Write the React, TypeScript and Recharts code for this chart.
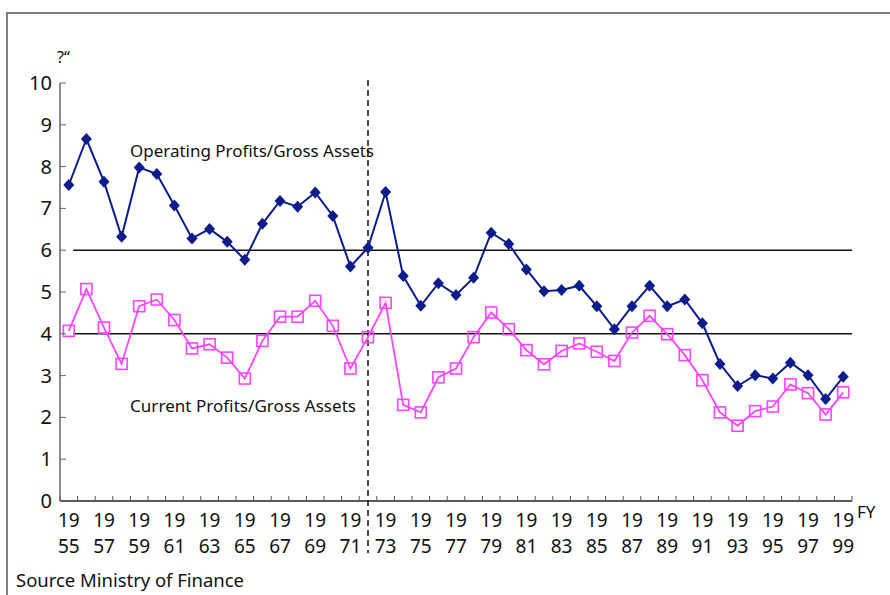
import React from 'react';
import { LineChart, Line, XAxis, YAxis, ReferenceLine } from 'recharts';

// Fiscal years on the horizontal axis
const years = [
  1955, 1956, 1957, 1958, 1959, 1960, 1961, 1962, 1963, 1964,
  1965, 1966, 1967, 1968, 1969, 1970, 1971, 1972, 1973, 1974,
  1975, 1976, 1977, 1978, 1979, 1980, 1981, 1982, 1983, 1984,
  1985, 1986, 1987, 1988, 1989, 1990, 1991, 1992, 1993, 1994,
  1995, 1996, 1997, 1998, 1999,
];

// Operating profits / gross assets (%)
const operatingProfits = [
  7.56, 8.66, 7.64, 6.32, 7.98, 7.82, 7.07, 6.28, 6.51, 6.20,
  5.77, 6.63, 7.18, 7.04, 7.38, 6.82, 5.61, 6.06, 7.39, 5.38,
  4.67, 5.21, 4.93, 5.34, 6.42, 6.15, 5.54, 5.02, 5.05, 5.15,
  4.66, 4.11, 4.66, 5.15, 4.66, 4.82, 4.25, 3.28, 2.75, 3.01,
  2.93, 3.31, 3.01, 2.44, 2.97,
];

// Current profits / gross assets (%)
const currentProfits = [
  4.07, 5.07, 4.15, 3.28, 4.66, 4.82, 4.33, 3.65, 3.75, 3.43,
  2.93, 3.83, 4.41, 4.41, 4.79, 4.19, 3.17, 3.92, 4.74, 2.30,
  2.12, 2.96, 3.17, 3.92, 4.51, 4.11, 3.61, 3.27, 3.59, 3.77,
  3.57, 3.35, 4.03, 4.43, 3.99, 3.49, 2.89, 2.12, 1.80, 2.15,
  2.26, 2.79, 2.58, 2.07, 2.60,
];

// Labelled years (every other fiscal year)
const labelYears = [
  1955, 1957, 1959, 1961, 1963, 1965, 1967, 1969, 1971, 1973, 1975, 1977,
  1979, 1981, 1983, 1985, 1987, 1989, 1991, 1993, 1995, 1997, 1999,
];

const valueTicks = [0, 1, 2, 3, 4, 5, 6, 7, 8, 9, 10];

// Long-run reference levels and the 1972 break
const operatingLevel = 6;
const currentLevel = 4;
const breakYear = 1972;

const NAVY = '#0b1c8c';
const MAGENTA = '#ff44ff';
const FONT = '"Noto Sans", "DejaVu Sans", sans-serif';

const data = years.map((year, i) => ({
  year,
  operating: operatingProfits[i],
  current: currentProfits[i],
}));

const firstYear = years[0];
const lastYear = years[years.length - 1];
const xDomain: [number, number] = [firstYear - 0.5, lastYear + 0.5];
const boundaryTicks = [...years.map((y) => y - 0.5), lastYear + 0.5];

const Diamond = (props: any) => {
  const { cx, cy, index } = props;
  if (cx == null || cy == null) return <g key={`d-${index}`} />;
  return (
    <path
      key={`d-${index}`}
      d={`M${cx},${cy - 6}L${cx + 5.5},${cy}L${cx},${cy + 6}L${cx - 5.5},${cy}Z`}
      fill={NAVY}
    />
  );
};

const HollowSquare = (props: any) => {
  const { cx, cy, index } = props;
  if (cx == null || cy == null) return <g key={`s-${index}`} />;
  return (
    <rect
      key={`s-${index}`}
      x={cx - 5.5}
      y={cy - 5.5}
      width={11}
      height={11}
      fill="none"
      stroke={MAGENTA}
      strokeWidth={1.6}
    />
  );
};

const YearTick = (props: any) => {
  const { x, y, payload } = props;
  const s = String(payload.value);
  return (
    <g>
      <text x={x} y={y + 26} textAnchor="middle" fontSize={19} fontFamily={FONT} fill="#111">
        {s.slice(0, 2)}
      </text>
      <text x={x} y={y + 52} textAnchor="middle" fontSize={19} fontFamily={FONT} fill="#111">
        {s.slice(2)}
      </text>
    </g>
  );
};

const ValueTick = (props: any) => {
  const { x, y, payload } = props;
  return (
    <g>
      <line x1={x + 8} y1={y} x2={x + 14} y2={y} stroke="#666" strokeWidth={1} />
      <text x={x} y={y + 7} textAnchor="end" fontSize={20} fontFamily={FONT} fill="#111">
        {payload.value}
      </text>
    </g>
  );
};

const EmptyTick = () => <g />;

export default function App() {
  return (
    <div
      style={{
        position: 'fixed',
        left: 0,
        top: 0,
        width: 890,
        height: 595,
        overflow: 'hidden',
        background: '#fff',
      }}
    >
      <div
        style={{
          position: 'absolute',
          left: 6,
          top: 12,
          width: 920,
          height: 620,
          border: '2px solid #808080',
          boxSizing: 'border-box',
        }}
      />
      <div style={{ position: 'absolute', left: 0, top: 0 }}>
        <LineChart
          width={890}
          height={595}
          data={data}
          margin={{ top: 83, right: 38, left: 10, bottom: 34 }}
        >
          <XAxis
            dataKey="year"
            type="number"
            domain={xDomain}
            ticks={labelYears}
            interval={0}
            height={60}
            tickSize={0}
            tickMargin={0}
            tickLine={false}
            axisLine={{ stroke: '#222', strokeWidth: 1.5 }}
            tick={<YearTick />}
          />
          <XAxis
            xAxisId="bounds"
            dataKey="year"
            type="number"
            domain={xDomain}
            ticks={boundaryTicks}
            interval={0}
            mirror
            tickSize={5}
            axisLine={false}
            tickLine={{ stroke: '#555', strokeWidth: 1 }}
            tick={EmptyTick}
          />
          <YAxis
            type="number"
            domain={[0, 10]}
            ticks={valueTicks}
            interval={0}
            width={50}
            tickSize={0}
            tickMargin={8}
            tickLine={false}
            axisLine={{ stroke: '#666', strokeWidth: 1.5 }}
            tick={<ValueTick />}
          />
          <ReferenceLine
            segment={[
              { x: firstYear + 0.25, y: operatingLevel },
              { x: lastYear + 0.5, y: operatingLevel },
            ]}
            stroke="#111"
            strokeWidth={1.5}
          />
          <ReferenceLine
            segment={[
              { x: firstYear + 0.25, y: currentLevel },
              { x: lastYear + 0.5, y: currentLevel },
            ]}
            stroke="#111"
            strokeWidth={1.5}
          />
          <ReferenceLine
            segment={[
              { x: breakYear, y: 10.07 },
              { x: breakYear, y: -1.25 },
            ]}
            ifOverflow="visible"
            stroke="#111"
            strokeWidth={1.5}
            strokeDasharray="6 4"
          />
          <Line
            dataKey="operating"
            stroke={NAVY}
            strokeWidth={2}
            dot={Diamond}
            activeDot={false}
            isAnimationActive={false}
          />
          <Line
            dataKey="current"
            stroke={MAGENTA}
            strokeWidth={1.8}
            dot={HollowSquare}
            activeDot={false}
            isAnimationActive={false}
          />
        </LineChart>
      </div>
      <svg
        width={890}
        height={595}
        style={{ position: 'absolute', left: 0, top: 0, pointerEvents: 'none' }}
      >
        <text x={57} y={63} fontSize={16} fontFamily={FONT} fill="#111">
          ?“
        </text>
        <text x={130} y={157} fontSize={17} fontFamily={FONT} fill="#111" textLength={244}>
          Operating Profits/Gross Assets
        </text>
        <text x={130} y={412} fontSize={17} fontFamily={FONT} fill="#111" textLength={226}>
          Current Profits/Gross Assets
        </text>
        <text x={857} y={518} fontSize={17} fontFamily={FONT} fill="#111">
          FY
        </text>
        <text x={16} y={587} fontSize={18.5} fontFamily={FONT} fill="#111" textLength={228}>
          Source Ministry of Finance
        </text>
      </svg>
    </div>
  );
}
